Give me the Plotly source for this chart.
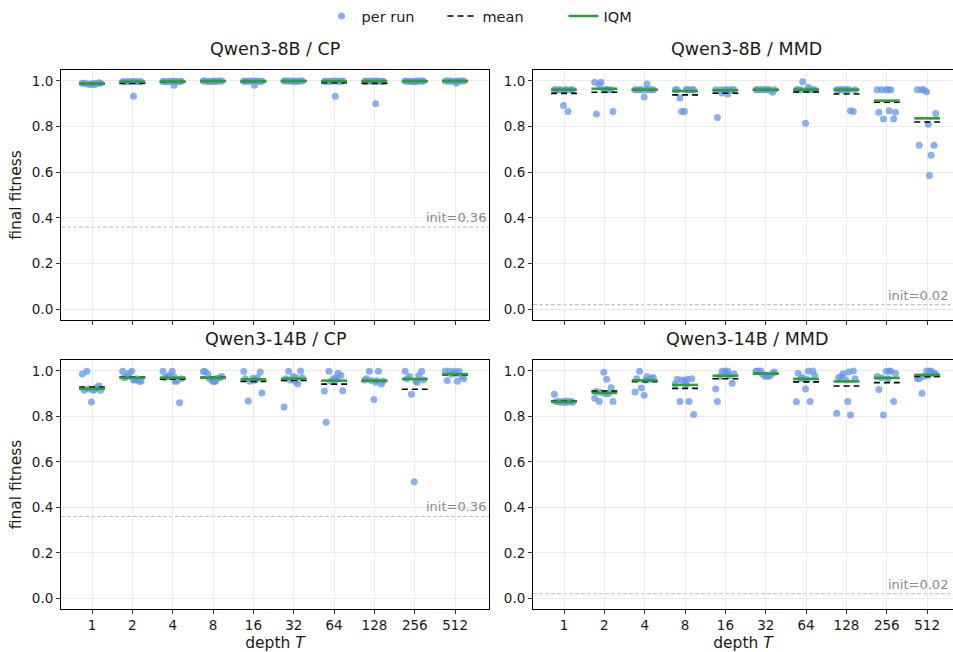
import numpy as np
import plotly.graph_objects as go

depths = ["1", "2", "4", "8", "16", "32", "64", "128", "256", "512"]
panel_titles = ["Qwen3-8B / CP", "Qwen3-8B / MMD", "Qwen3-14B / CP", "Qwen3-14B / MMD"]
init_values = [0.36, 0.02, 0.36, 0.02]

# per-run final fitness, 10 runs per depth
cp_8b = [
    [0.990, 0.985, 0.988, 0.992, 0.985, 0.990, 0.988, 0.986, 0.990, 0.990],
    [0.997, 0.998, 0.996, 0.997, 0.998, 0.997, 0.996, 0.997, 0.997, 0.933],
    [0.998, 0.999, 0.997, 0.998, 0.999, 0.998, 0.997, 0.998, 0.999, 0.981],
    [1.000, 0.999, 0.998, 1.000, 0.999, 1.000, 0.999, 0.998, 1.000, 0.999],
    [0.999, 1.000, 0.999, 0.998, 1.000, 0.999, 0.999, 1.000, 0.999, 0.981],
    [1.000, 0.999, 1.000, 1.000, 0.999, 1.000, 0.999, 1.000, 1.000, 0.999],
    [0.999, 1.000, 0.998, 0.999, 1.000, 0.999, 0.998, 0.999, 1.000, 0.933],
    [0.999, 1.000, 0.999, 0.998, 1.000, 0.999, 0.999, 1.000, 0.999, 0.900],
    [1.000, 0.998, 0.999, 1.000, 0.997, 0.999, 1.000, 0.998, 0.999, 1.000],
    [1.000, 0.999, 1.000, 1.000, 0.999, 1.000, 1.000, 0.999, 1.000, 0.990],
]
mmd_8b = [
    [0.962, 0.962, 0.962, 0.962, 0.893, 0.962, 0.866, 0.962, 0.962, 0.962],
    [0.994, 0.962, 0.985, 0.962, 0.962, 0.855, 0.962, 0.994, 0.866, 0.962],
    [0.962, 0.987, 0.962, 0.962, 0.930, 0.962, 0.962, 0.962, 0.962, 0.962],
    [0.962, 0.962, 0.925, 0.962, 0.866, 0.962, 0.962, 0.866, 0.962, 0.962],
    [0.962, 0.943, 0.962, 0.962, 0.962, 0.840, 0.962, 0.947, 0.962, 0.962],
    [0.962, 0.962, 0.962, 0.950, 0.962, 0.962, 0.962, 0.962, 0.962, 0.962],
    [0.962, 0.972, 0.962, 0.962, 0.815, 0.962, 0.962, 0.996, 0.962, 0.962],
    [0.962, 0.962, 0.962, 0.866, 0.962, 0.962, 0.870, 0.962, 0.962, 0.962],
    [0.962, 0.870, 0.962, 0.833, 0.962, 0.863, 0.962, 0.833, 0.863, 0.962],
    [0.962, 0.586, 0.962, 0.718, 0.953, 0.718, 0.675, 0.962, 0.857, 0.810],
]
cp_14b = [
    [0.986, 0.918, 0.999, 0.935, 0.863, 0.915, 0.925, 0.920, 0.915, 0.915],
    [0.999, 0.960, 0.975, 0.955, 0.998, 0.970, 0.965, 0.990, 0.955, 0.960],
    [0.999, 0.955, 0.975, 0.860, 0.998, 0.970, 0.955, 0.980, 0.965, 0.975],
    [0.997, 0.955, 0.985, 0.970, 0.955, 0.997, 0.968, 0.965, 0.975, 0.955],
    [0.997, 0.960, 0.868, 0.995, 0.968, 0.965, 0.970, 0.955, 0.903, 0.960],
    [0.841, 0.970, 0.999, 1.000, 0.975, 0.965, 0.942, 0.960, 0.970, 0.955],
    [0.912, 0.970, 0.999, 0.980, 0.965, 0.774, 0.990, 0.955, 0.913, 0.960],
    [0.960, 0.957, 0.998, 0.942, 0.874, 0.965, 0.999, 0.958, 0.955, 0.950],
    [0.999, 0.950, 0.975, 0.998, 0.513, 0.965, 0.980, 0.897, 0.960, 0.955],
    [1.000, 0.955, 0.999, 0.975, 0.998, 0.958, 0.999, 0.985, 0.965, 0.990],
]
mmd_14b = [
    [0.897, 0.868, 0.866, 0.865, 0.865, 0.864, 0.863, 0.862, 0.862, 0.861],
    [0.880, 0.963, 0.866, 0.926, 0.994, 0.910, 0.900, 0.905, 0.866, 0.900],
    [0.907, 0.975, 0.999, 0.968, 0.893, 0.965, 0.962, 0.925, 0.970, 0.960],
    [0.944, 0.963, 0.866, 0.965, 0.958, 0.963, 0.866, 0.960, 0.808, 0.940],
    [0.921, 1.000, 0.975, 0.946, 0.999, 0.865, 0.980, 0.999, 0.987, 0.985],
    [0.999, 0.978, 1.000, 0.990, 0.975, 1.000, 0.978, 0.985, 0.995, 0.980],
    [0.864, 0.999, 0.965, 1.000, 0.921, 0.990, 0.866, 0.970, 0.980, 0.962],
    [0.814, 0.995, 0.975, 1.000, 0.960, 0.970, 0.806, 0.988, 0.965, 0.865],
    [0.975, 1.000, 0.970, 0.865, 0.998, 0.918, 0.999, 0.806, 0.990, 0.965],
    [0.965, 1.000, 0.902, 0.990, 1.000, 0.965, 0.999, 0.975, 0.985, 0.980],
]
panels = [cp_8b, mmd_8b, cp_14b, mmd_14b]

POINT_C = "#6495ED"
IQM_C = "#2ca02c"
FONT = "DejaVu Sans"
TXT = "#1a1a1a"
W, H = 953, 652


def iqm(vals):
    v = np.sort(np.asarray(vals))
    k = int(0.25 * len(v))
    return float(v[k:len(v) - k].mean())


# panel pixel boxes (left, top, right, bottom)
boxes = [(61, 70, 489, 320), (533, 70, 953, 320), (61, 360, 489, 609), (533, 360, 953, 609)]
cat_first_px = [92, 564, 92, 564]
cat_step = 40.35

fig = go.Figure()
for p, data in enumerate(panels):
    xa = "x" if p == 0 else f"x{p+1}"
    ya = "y" if p == 0 else f"y{p+1}"
    px, py = [], []
    mx, my, qx, qy = [], [], [], []
    for i, runs in enumerate(data):
        for j, v in enumerate(runs):
            off = (((j * 0.6180339) % 1.0) - 0.5) * 0.48
            px.append(i + off)
            py.append(v)
        m = float(np.mean(runs))
        q = iqm(runs)
        mx += [i - 0.32, i + 0.32, None]
        my += [m, m, None]
        qx += [i - 0.32, i + 0.32, None]
        qy += [q, q, None]
    fig.add_trace(go.Scatter(x=px, y=py, mode="markers", xaxis=xa, yaxis=ya,
                             marker=dict(color=POINT_C, size=7, opacity=0.75, line=dict(width=0)),
                             name="per run", showlegend=(p == 0), legendrank=1))
    fig.add_trace(go.Scatter(x=mx, y=my, mode="lines", xaxis=xa, yaxis=ya,
                             line=dict(color="black", width=1.6, dash="6px,4px"),
                             name="mean", showlegend=(p == 0), legendrank=2))
    fig.add_trace(go.Scatter(x=qx, y=qy, mode="lines", xaxis=xa, yaxis=ya,
                             line=dict(color=IQM_C, width=2.6),
                             name="IQM", showlegend=(p == 0), legendrank=3))

annotations = []
shapes = []
for p in range(4):
    l, t, r, b = boxes[p]
    xk = "xaxis" if p == 0 else f"xaxis{p+1}"
    yk = "yaxis" if p == 0 else f"yaxis{p+1}"
    x0 = (l - cat_first_px[p]) / cat_step
    x1 = (r - cat_first_px[p]) / cat_step
    is_right = p % 2 == 1
    is_bottom = p >= 2
    fig.layout[xk] = dict(
        domain=[l / W, r / W], range=[x0, x1], anchor=("y" if p == 0 else f"y{p+1}"),
        tickmode="array", tickvals=list(range(len(depths))), ticktext=depths,
        showticklabels=is_bottom, ticks="outside", ticklen=4, tickcolor="#333",
        showgrid=True, gridcolor="#ebebeb", gridwidth=1, zeroline=False,
        showline=True, linecolor="black", linewidth=1, mirror=True,
        tickfont=dict(family=FONT, size=13.5, color=TXT),
        title=dict(text=("depth <i>T</i>" if is_bottom else ""), font=dict(family=FONT, size=15.5, color=TXT), standoff=4),
    )
    fig.layout[yk] = dict(
        domain=[1 - b / H, 1 - t / H], range=[-0.047, 1.048], anchor=("x" if p == 0 else f"x{p+1}"),
        tickmode="array", tickvals=[0, 0.2, 0.4, 0.6, 0.8, 1.0],
        ticktext=["0.0", "0.2", "0.4", "0.6", "0.8", "1.0"],
        ticks="outside", ticklen=4, tickcolor="#333",
        showgrid=True, gridcolor="#ebebeb", gridwidth=1, zeroline=False,
        showline=True, linecolor="black", linewidth=1, mirror=(not is_right),
        tickfont=dict(family=FONT, size=13.5, color=TXT),
        title=dict(text=("" if is_right else "final fitness"), font=dict(family=FONT, size=15.5, color=TXT), standoff=6),
    )
    xr = "x" if p == 0 else f"x{p+1}"
    yr = "y" if p == 0 else f"y{p+1}"
    shapes.append(dict(type="line", xref=f"{xr} domain", yref=yr, x0=0, x1=1,
                       y0=init_values[p], y1=init_values[p],
                       line=dict(color="#bbbbbb", width=1, dash="4px,2px"), layer="below"))
    annotations.append(dict(xref=f"{xr} domain", yref=yr, x=(0.997 if not is_right else 0.993),
                            y=init_values[p], text=f"init={init_values[p]:.2f}", showarrow=False,
                            xanchor="right", yanchor="bottom", yshift=0,
                            font=dict(family=FONT, size=13, color="#888")))
    annotations.append(dict(xref="paper", yref="paper", x=((l + r) / 2) / W if not is_right else ((533 + 960) / 2) / W,
                            y=1 - (t - 9) / H, text=panel_titles[p], showarrow=False,
                            xanchor="center", yanchor="bottom",
                            font=dict(family=FONT, size=17.5, color=TXT)))

fig.update_layout(
    width=W, height=H, margin=dict(l=0, r=0, t=0, b=0, autoexpand=False),
    paper_bgcolor="white", plot_bgcolor="white",
    font=dict(family=FONT, size=13, color=TXT),
    shapes=shapes, annotations=annotations,
    legend=dict(orientation="h", x=503 / W, xanchor="center", y=1, yanchor="top",
                font=dict(family=FONT, size=14.5, color=TXT), itemwidth=30,
                entrywidth=76, entrywidthmode="pixels",
                bgcolor="rgba(0,0,0,0)", traceorder="normal"),
)

fig.write_html("out.html")
